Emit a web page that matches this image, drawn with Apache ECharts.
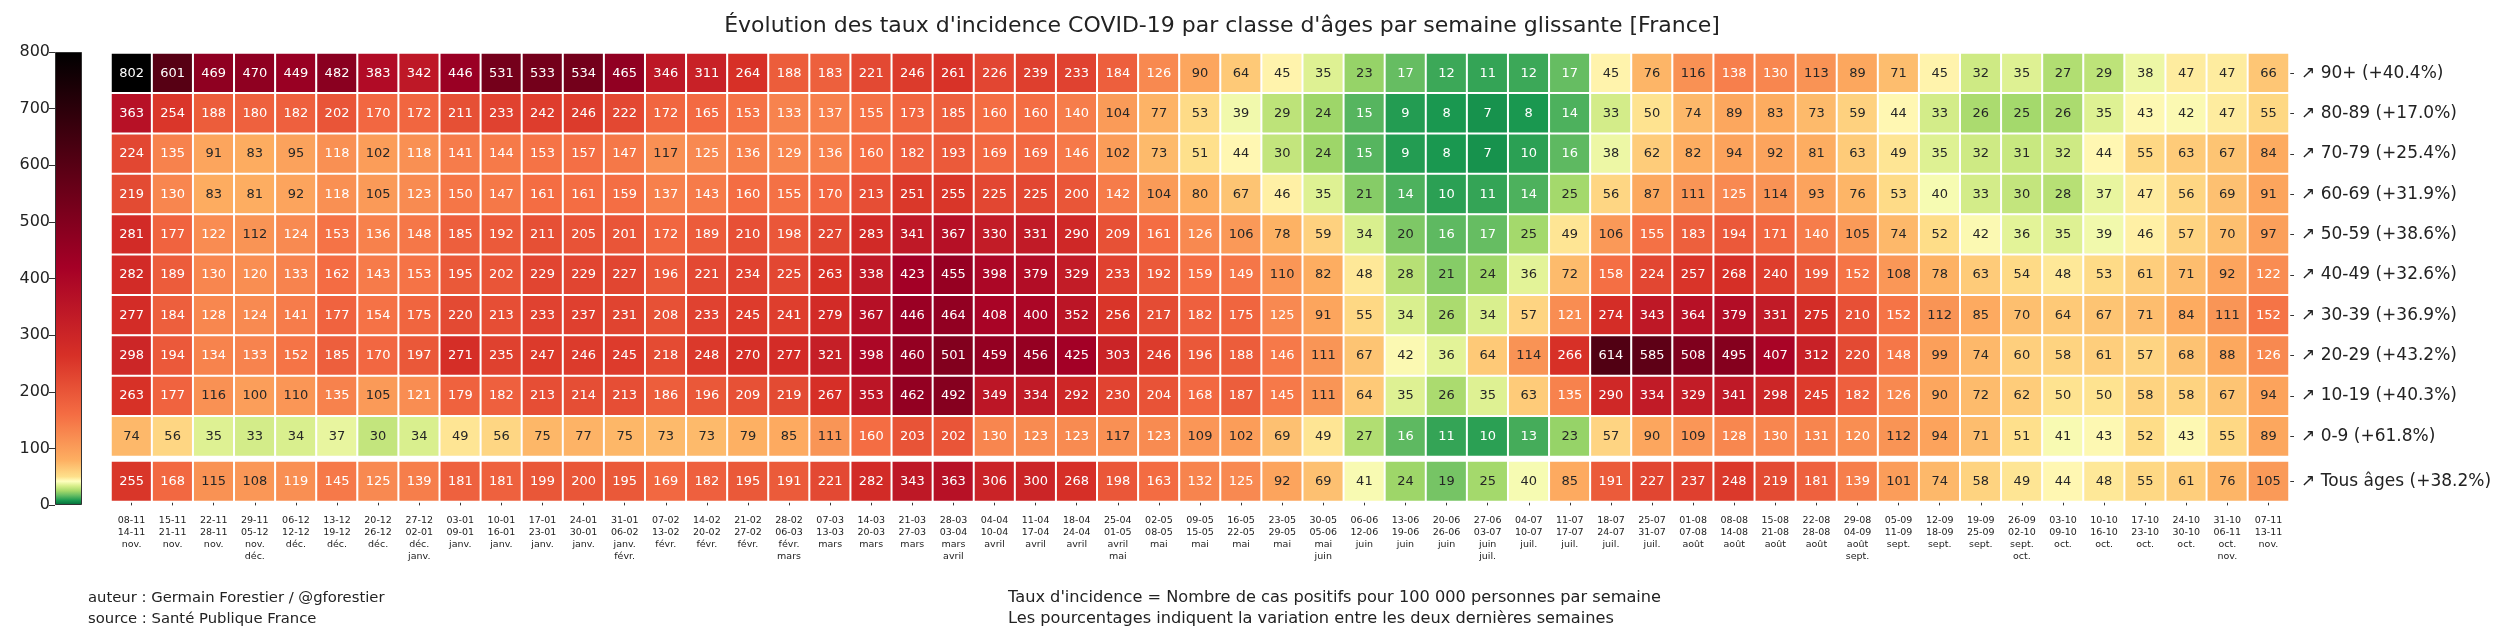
<!DOCTYPE html>
<html><head><meta charset="utf-8">
<script src="https://cdn.jsdelivr.net/npm/echarts@6/dist/echarts.min.js"></script>
<style>html,body{margin:0;padding:0;background:#fff}#c{width:2506px;height:638px}</style>
</head><body><div id="c"></div>
<script>
const weekStart = ['08-11','15-11','22-11','29-11','06-12','13-12','20-12','27-12','03-01','10-01','17-01','24-01','31-01','07-02','14-02','21-02','28-02','07-03','14-03','21-03','28-03','04-04','11-04','18-04','25-04','02-05','09-05','16-05','23-05','30-05','06-06','13-06','20-06','27-06','04-07','11-07','18-07','25-07','01-08','08-08','15-08','22-08','29-08','05-09','12-09','19-09','26-09','03-10','10-10','17-10','24-10','31-10','07-11'];
const weekEnd = ['14-11','21-11','28-11','05-12','12-12','19-12','26-12','02-01','09-01','16-01','23-01','30-01','06-02','13-02','20-02','27-02','06-03','13-03','20-03','27-03','03-04','10-04','17-04','24-04','01-05','08-05','15-05','22-05','29-05','05-06','12-06','19-06','26-06','03-07','10-07','17-07','24-07','31-07','07-08','14-08','21-08','28-08','04-09','11-09','18-09','25-09','02-10','09-10','16-10','23-10','30-10','06-11','13-11'];
const weekMonths = ['nov.','nov.','nov.','nov.\ndéc.','déc.','déc.','déc.','déc.\njanv.','janv.','janv.','janv.','janv.','janv.\nfévr.','févr.','févr.','févr.','févr.\nmars','mars','mars','mars','mars\navril','avril','avril','avril','avril\nmai','mai','mai','mai','mai','mai\njuin','juin','juin','juin','juin\njuil.','juil.','juil.','juil.','juil.','août','août','août','août','août\nsept.','sept.','sept.','sept.','sept.\noct.','oct.','oct.','oct.','oct.','oct.\nnov.','nov.'];

const ageLabels = ['↗ 90+ (+40.4%)','↗ 80-89 (+17.0%)','↗ 70-79 (+25.4%)','↗ 60-69 (+31.9%)','↗ 50-59 (+38.6%)','↗ 40-49 (+32.6%)','↗ 30-39 (+36.9%)','↗ 20-29 (+43.2%)','↗ 10-19 (+40.3%)','↗ 0-9 (+61.8%)'];
const allLabel = ['↗ Tous âges (+38.2%)'];

const v90 = [802,601,469,470,449,482,383,342,446,531,533,534,465,346,311,264,188,183,221,246,261,226,239,233,184,126,90,64,45,35,23,17,12,11,12,17,45,76,116,138,130,113,89,71,45,32,35,27,29,38,47,47,66];
const v80 = [363,254,188,180,182,202,170,172,211,233,242,246,222,172,165,153,133,137,155,173,185,160,160,140,104,77,53,39,29,24,15,9,8,7,8,14,33,50,74,89,83,73,59,44,33,26,25,26,35,43,42,47,55];
const v70 = [224,135,91,83,95,118,102,118,141,144,153,157,147,117,125,136,129,136,160,182,193,169,169,146,102,73,51,44,30,24,15,9,8,7,10,16,38,62,82,94,92,81,63,49,35,32,31,32,44,55,63,67,84];
const v60 = [219,130,83,81,92,118,105,123,150,147,161,161,159,137,143,160,155,170,213,251,255,225,225,200,142,104,80,67,46,35,21,14,10,11,14,25,56,87,111,125,114,93,76,53,40,33,30,28,37,47,56,69,91];
const v50 = [281,177,122,112,124,153,136,148,185,192,211,205,201,172,189,210,198,227,283,341,367,330,331,290,209,161,126,106,78,59,34,20,16,17,25,49,106,155,183,194,171,140,105,74,52,42,36,35,39,46,57,70,97];
const v40 = [282,189,130,120,133,162,143,153,195,202,229,229,227,196,221,234,225,263,338,423,455,398,379,329,233,192,159,149,110,82,48,28,21,24,36,72,158,224,257,268,240,199,152,108,78,63,54,48,53,61,71,92,122];
const v30 = [277,184,128,124,141,177,154,175,220,213,233,237,231,208,233,245,241,279,367,446,464,408,400,352,256,217,182,175,125,91,55,34,26,34,57,121,274,343,364,379,331,275,210,152,112,85,70,64,67,71,84,111,152];
const v20 = [298,194,134,133,152,185,170,197,271,235,247,246,245,218,248,270,277,321,398,460,501,459,456,425,303,246,196,188,146,111,67,42,36,64,114,266,614,585,508,495,407,312,220,148,99,74,60,58,61,57,68,88,126];
const v10 = [263,177,116,100,110,135,105,121,179,182,213,214,213,186,196,209,219,267,353,462,492,349,334,292,230,204,168,187,145,111,64,35,26,35,63,135,290,334,329,341,298,245,182,126,90,72,62,50,50,58,58,67,94];
const v00 = [74,56,35,33,34,37,30,34,49,56,75,77,75,73,73,79,85,111,160,203,202,130,123,123,117,123,109,102,69,49,27,16,11,10,13,23,57,90,109,128,130,131,120,112,94,71,51,41,43,52,43,55,89];
const vAll = [255,168,115,108,119,145,125,139,181,181,199,200,195,169,182,195,191,221,282,343,363,306,300,268,198,163,132,125,92,69,41,24,19,25,40,85,191,227,237,248,219,181,139,101,74,58,49,44,48,55,61,76,105];

const colorbarTicks = [0,100,200,300,400,500,600,700,800];

const ageRows = [v90,v80,v70,v60,v50,v40,v30,v20,v10,v00];

// colour scale (style)
const stops = [[0,'#006837'],[8,'#1a9850'],[17,'#66bd63'],[25,'#a6d96a'],[34,'#d9ef8b'],[42,'#ffffbf'],[50,'#fee08b'],[80,'#fdae61'],[160,'#f46d43'],[264,'#d73027'],[420,'#a50026'],[800,'#000000']];
function hex2rgb(h){return [parseInt(h.slice(1,3),16),parseInt(h.slice(3,5),16),parseInt(h.slice(5,7),16)];}
function colorAt(v){
  for(let i=0;i<stops.length-1;i++){
    const a=stops[i],b=stops[i+1];
    if(v<=b[0]){const t=(v-a[0])/(b[0]-a[0]);const ca=hex2rgb(a[1]),cb=hex2rgb(b[1]);
      return 'rgb('+ca.map((c,k)=>Math.round(c+(cb[k]-c)*t)).join(',')+')';}
  }
  return stops[stops.length-1][1];
}
const scaleColors=[];for(let k=0;k<=200;k++)scaleColors.push(colorAt(k*4));
const cbMax = colorbarTicks[colorbarTicks.length-1];
const gradStops = stops.map(s=>({offset:s[0]/cbMax,color:s[1]}));

function txtColor(v){return (v<18.5||v>=117.5)?'#ffffff':'#262626';}

const weeks = weekStart.map((s,i)=>s+'\n'+weekEnd[i]+'\n'+weekMonths[i]);

const dataAges=[];
ageRows.forEach((row,i)=>row.forEach((v,j)=>dataAges.push({value:[j,i,v],label:{color:txtColor(v)}})));
const dataAll=vAll.map((v,j)=>({value:[j,0,v],label:{color:txtColor(v)}}));

const FONT='DejaVu Sans';
const chart=echarts.init(document.getElementById('c'),null,{renderer:'canvas'});
const cellLabel={show:true,fontSize:13,fontFamily:FONT,formatter:p=>p.value[2]};
chart.setOption({
  animation:false,
  textStyle:{fontFamily:FONT},
  grid:[
    {left:111,top:53,width:2178,height:403.6},
    {left:111,top:461,width:2178,height:40.4},
    {left:55,top:52,width:27,height:453}
  ],
  xAxis:[
    {type:'category',gridIndex:0,data:weeks,show:false},
    {type:'category',gridIndex:1,data:weeks,
     axisLine:{show:true,lineStyle:{opacity:0}},
     axisTick:{show:true,alignWithLabel:true,length:4,lineStyle:{color:'#333'}},
     axisLabel:{interval:0,fontSize:9.5,lineHeight:12,color:'#222',margin:13,fontFamily:FONT}},
    {type:'category',gridIndex:2,data:[''],show:false}
  ],
  yAxis:[
    {type:'category',gridIndex:0,data:ageLabels,inverse:true,position:'right',
     axisLine:{show:true,lineStyle:{opacity:0}},
     axisTick:{show:true,alignWithLabel:true,length:5,lineStyle:{color:'#333'}},
     axisLabel:{fontSize:17,color:'#222',margin:12,fontFamily:FONT}},
    {type:'category',gridIndex:1,data:allLabel,position:'right',
     axisLine:{show:true,lineStyle:{opacity:0}},
     axisTick:{show:true,alignWithLabel:true,length:5,lineStyle:{color:'#333'}},
     axisLabel:{fontSize:17,color:'#222',margin:12,fontFamily:FONT}},
    {type:'value',gridIndex:2,min:0,max:cbMax,interval:100,position:'left',
     axisLine:{show:false},splitLine:{show:false},
     axisTick:{show:true,length:6,lineStyle:{color:'#333'}},
     axisLabel:{fontSize:16,color:'#222',margin:5,fontFamily:FONT}}
  ],
  visualMap:{type:'continuous',min:0,max:cbMax,show:false,seriesIndex:[0,1],dimension:2,inRange:{color:scaleColors}},
  series:[
    {type:'heatmap',xAxisIndex:0,yAxisIndex:0,data:dataAges,label:cellLabel,itemStyle:{borderColor:'#fff',borderWidth:2}},
    {type:'heatmap',xAxisIndex:1,yAxisIndex:1,data:dataAll,label:cellLabel,itemStyle:{borderColor:'#fff',borderWidth:2}},
    {type:'bar',xAxisIndex:2,yAxisIndex:2,data:[cbMax],barWidth:'100%',silent:true,
     itemStyle:{color:new echarts.graphic.LinearGradient(0,1,0,0,gradStops),borderColor:'#333',borderWidth:1}}
  ],
  graphic:[
    {type:'text',x:1222,y:26,style:{text:"Évolution des taux d'incidence COVID-19 par classe d'âges par semaine glissante [France]",font:'22px "DejaVu Sans"',fill:'#222',textAlign:'center',textVerticalAlign:'middle'}},
    {type:'text',x:88,y:598,style:{text:'auteur : Germain Forestier / @gforestier',font:'14.8px "DejaVu Sans"',fill:'#222',textVerticalAlign:'middle'}},
    {type:'text',x:88,y:619,style:{text:'source : Santé Publique France',font:'14.8px "DejaVu Sans"',fill:'#222',textVerticalAlign:'middle'}},
    {type:'text',x:1008,y:598,style:{text:"Taux d'incidence = Nombre de cas positifs pour 100 000 personnes par semaine",font:'16.2px "DejaVu Sans"',fill:'#222',textVerticalAlign:'middle'}},
    {type:'text',x:1008,y:619,style:{text:'Les pourcentages indiquent la variation entre les deux dernières semaines',font:'16.2px "DejaVu Sans"',fill:'#222',textVerticalAlign:'middle'}}
  ]
});
</script></body></html>
